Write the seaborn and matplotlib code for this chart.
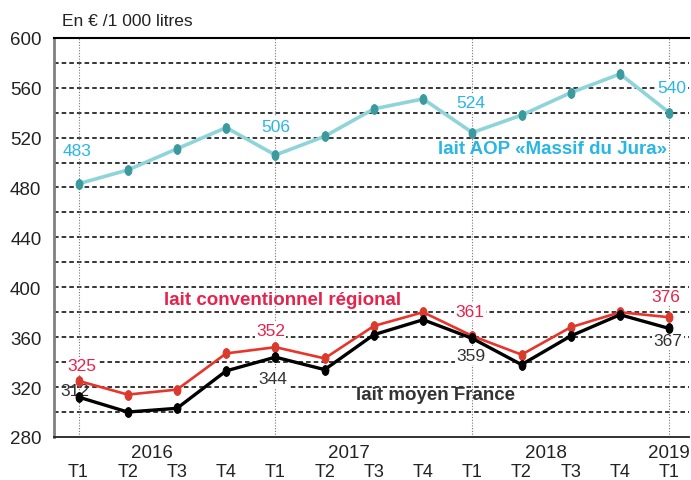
import matplotlib.pyplot as plt
import pandas as pd
import seaborn as sns
from matplotlib.path import Path
from matplotlib.transforms import Affine2D

# quarters T1 2016 -> T1 2019
quarters = ["T1", "T2", "T3", "T4", "T1", "T2", "T3", "T4", "T1", "T2", "T3", "T4", "T1"]
years = ["2016", "2017", "2018", "2019"]
year_pos = [1.5, 5.5, 9.5, 12]

aop = [483, 494, 511, 528, 506, 521, 543, 551, 524, 538, 556, 571, 540]
regional = [325, 314, 318, 347, 352, 343, 369, 380, 361, 346, 368, 380, 376]
france = [312, 300, 303, 333, 344, 334, 362, 374, 359, 338, 361, 378, 367]

labelled = [0, 4, 8, 12]

df = pd.DataFrame({"idx": range(len(quarters)), "aop": aop,
                   "regional": regional, "france": france})

sns.set_style("white")
plt.rcParams['font.family'] = ['Liberation Sans', 'DejaVu Sans']

# slightly tall ellipse marker like the original
ell = Affine2D().scale(0.7, 1.0).transform_path(Path.unit_circle())

fig = plt.figure(figsize=(6.91, 4.81), dpi=100)
ax = fig.add_axes([0.078, 0.0894, 0.919, 0.83])

# grid
for v in range(300, 600, 20):
    ax.axhline(v, color='black', lw=1.1, ls=(0, (3, 2)), zorder=1)
for i in labelled:
    ax.axvline(i, color='#777777', lw=0.8, ls=(0, (1, 1.5)), zorder=1)

sns.lineplot(data=df, x="idx", y="aop", ax=ax, color='#8fd4d8', lw=2.6,
             marker=ell, markersize=7, markerfacecolor='#3a9a9e',
             markeredgecolor='#3a9a9e', zorder=3)
sns.lineplot(data=df, x="idx", y="regional", ax=ax, color='#e8352b', lw=1.9,
             marker=ell, markersize=7, markerfacecolor='#d93a2c',
             markeredgecolor='#d93a2c', zorder=3)
sns.lineplot(data=df, x="idx", y="france", ax=ax, color='black', lw=2.4,
             marker=ell, markersize=7, markerfacecolor='black',
             markeredgecolor='black', zorder=4)

# value labels (offsets in data units)
box = dict(facecolor='white', edgecolor='none', pad=1)
aop_off = [(-0.03, 27), (0, 23), (-0.03, 24), (0.05, 20)]
reg_off = [(0.06, 12), (-0.1, 13), (-0.05, 19.6), (-0.08, 16.7)]
fr_off = [(-0.08, 5), (-0.05, -17.5), (-0.03, -14), (-0.02, -10)]
for i, (dx, dy) in zip(labelled, aop_off):
    ax.text(i + dx, aop[i] + dy, str(aop[i]), color='#29b6e3', fontsize=12.5,
            ha='center', va='center', bbox=box, zorder=2)
for i, (dx, dy) in zip(labelled, reg_off):
    ax.text(i + dx, regional[i] + dy, str(regional[i]), color='#e6234c', fontsize=12.5,
            ha='center', va='center', bbox=box, zorder=2)
for i, (dx, dy) in zip(labelled, fr_off):
    ax.text(i + dx, france[i] + dy, str(france[i]), color='#333333', fontsize=12.5,
            ha='center', va='center', bbox=box if i else None, zorder=2)

ax.text(9.63, 511, "lait AOP «Massif du Jura»", color='#29b6e3', fontsize=13.5,
        fontweight='bold', ha='center', va='center', zorder=5)
ax.text(4.14, 390, "lait conventionnel régional", color='#e6234c', fontsize=13.5,
        fontweight='bold', ha='center', va='center', zorder=5)
ax.text(7.26, 314, "lait moyen France", color='#333333', fontsize=13.5,
        fontweight='bold', ha='center', va='center', zorder=5)

ax.set_xlim(-0.49, 12.4)
ax.set_ylim(280, 600)
ax.set_yticks(range(280, 601, 40))
ax.tick_params(axis='y', length=0, labelsize=13.5, labelcolor='#222222', pad=9)
ax.set_xticks(range(len(quarters)))
ax.set_xticklabels(quarters)
ax.tick_params(axis='x', which='major', length=0, labelsize=13,
               labelcolor='#222222', pad=18.5)
ax.set_xticks([i + 0.5 for i in range(-1, 12)], minor=True)
ax.tick_params(axis='x', which='minor', length=5, color='#888888', width=1)
for y, p in zip(years, year_pos):
    ax.text(p, -0.018, y, transform=ax.get_xaxis_transform(), ha='center',
            va='top', fontsize=13.5, color='#222222')

ax.set_xlabel("")
ax.set_ylabel("")
ax.spines['right'].set_visible(False)
ax.spines['top'].set_color('black')
ax.spines['top'].set_linewidth(1.5)
ax.spines['left'].set_color('#808080')
ax.spines['left'].set_linewidth(2)
ax.spines['bottom'].set_color('#222222')
ax.spines['bottom'].set_linewidth(1.3)

fig.text(0.09, 0.956, "En € /1 000 litres", fontsize=12.5, color='#222222',
         ha='left', va='center')

fig.savefig("out.png", dpi=100)
